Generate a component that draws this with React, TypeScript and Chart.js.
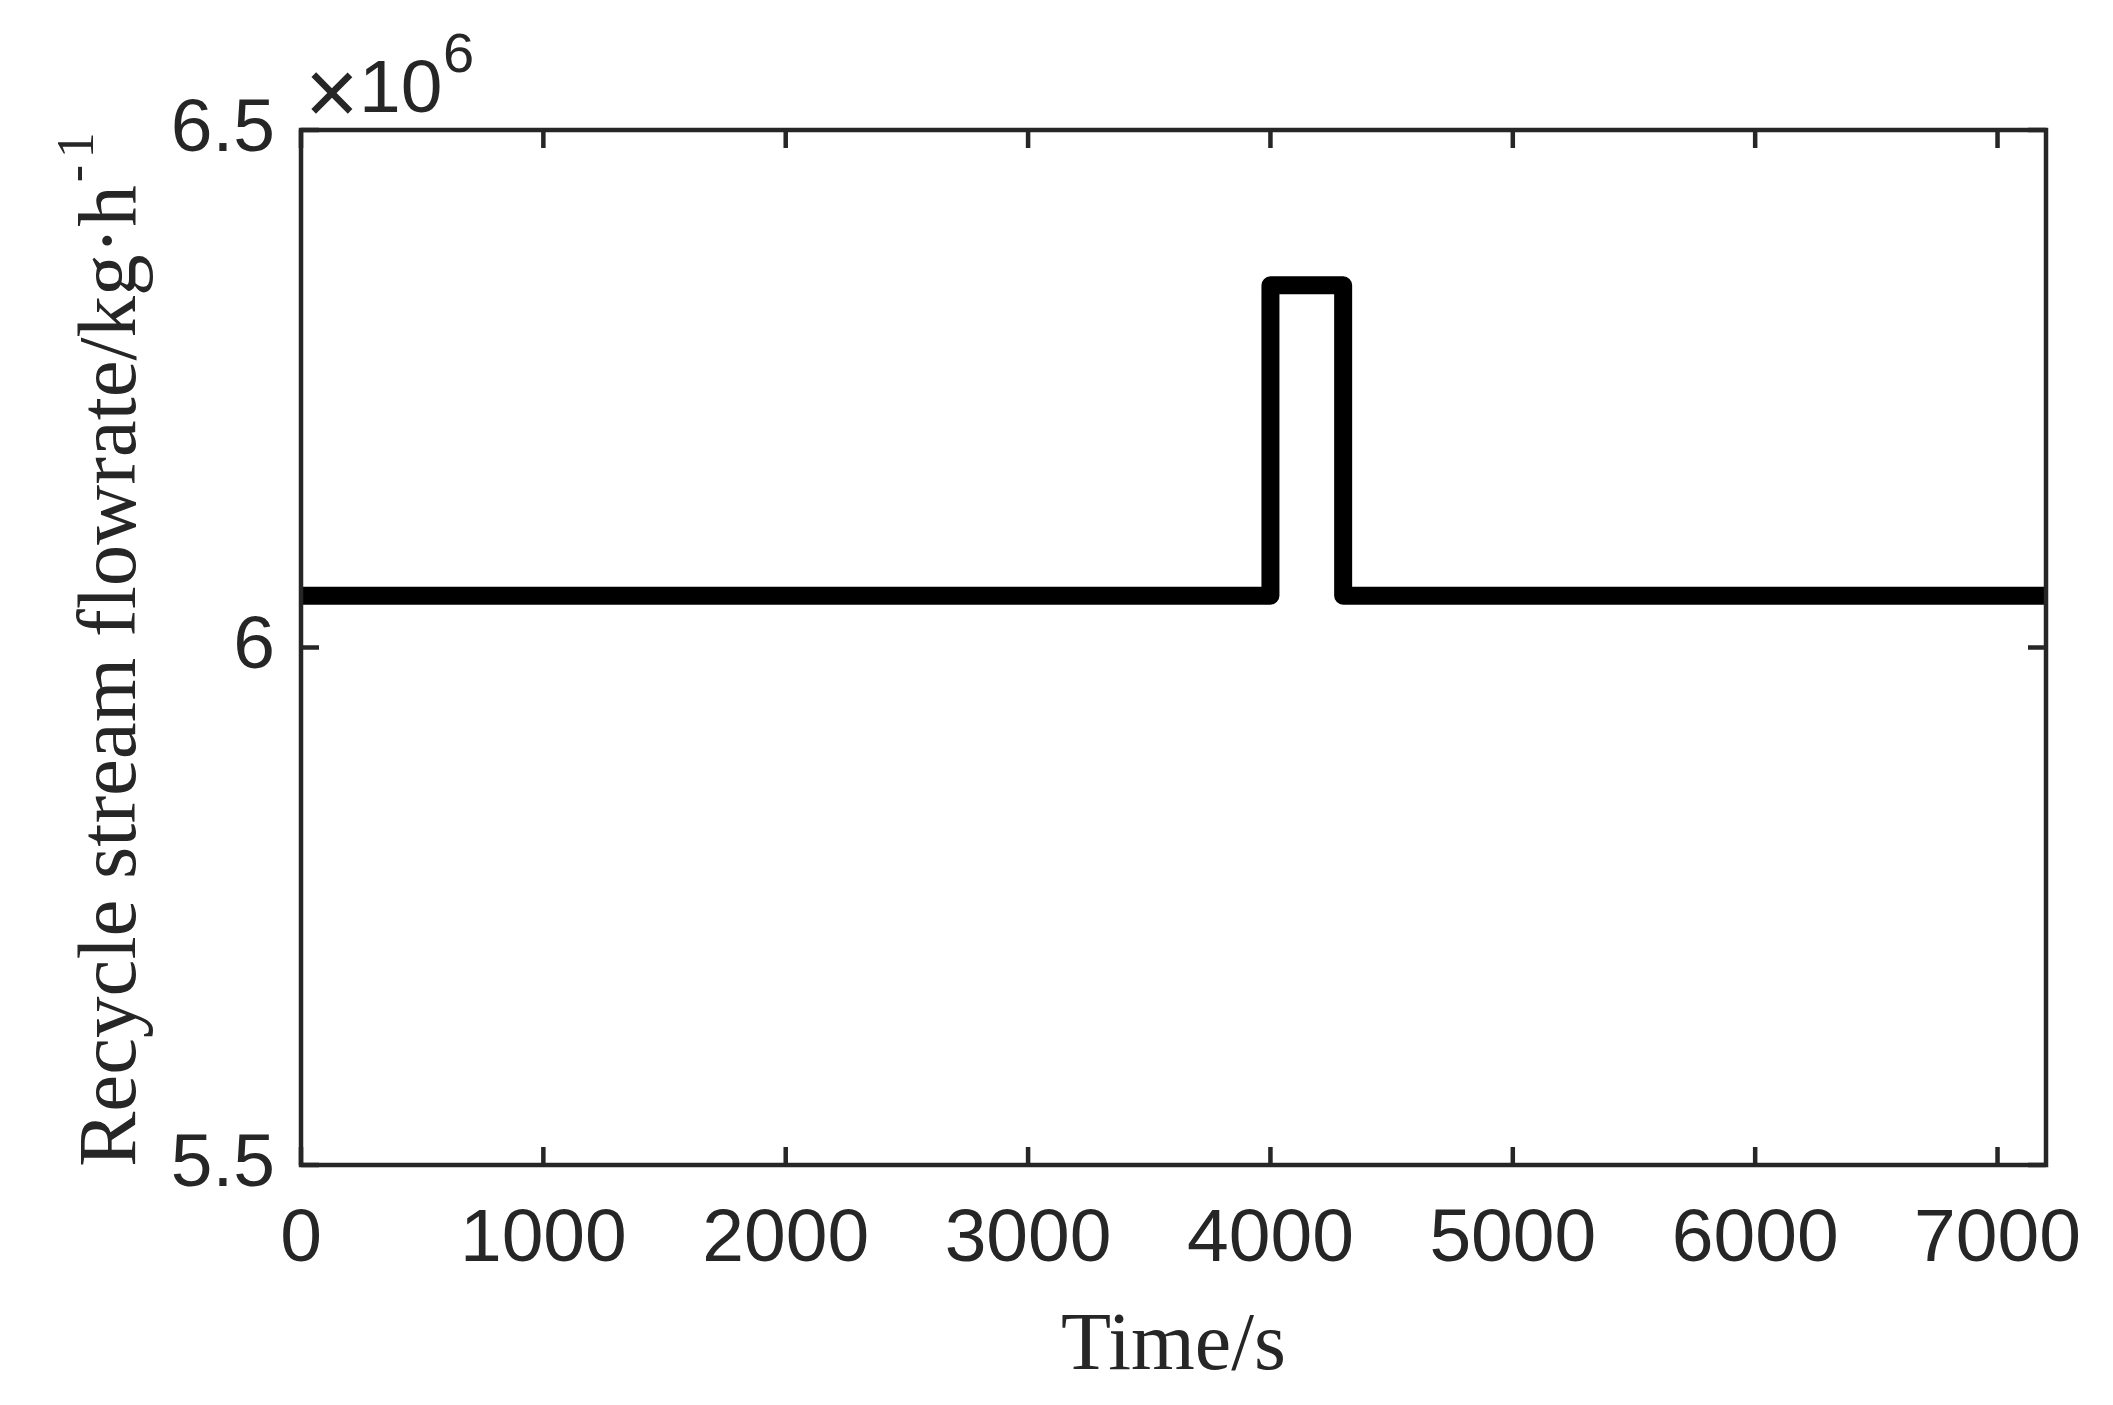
import React, { useEffect, useRef } from "react";
import { Chart, registerables } from "chart.js";

Chart.register(...registerables);

// ---- Data ----
const times: number[] = [0, 4000, 4000, 4300, 4300, 7200];
const flowrates: number[] = [6.05e6, 6.05e6, 6.35e6, 6.35e6, 6.05e6, 6.05e6];
const xTickValues: number[] = [0, 1000, 2000, 3000, 4000, 5000, 6000, 7000];
const yTickValues: number[] = [5.5e6, 6.0e6, 6.5e6];
const xMin = 0;
const xMax = 7200;
const yMin = 5.5e6;
const yMax = 6.5e6;
const yScaleFactor = 1e6;
const exponentBase = "10";
const exponentPower = "6";
const xTitle = "Time/s";
const yTitle = "Recycle stream flowrate/kg·h";
const yTitleSupMinus = "-";
const yTitleSupOne = "1";

const TEXT = "#262626";
const SANS = '"Liberation Sans", Arial, Helvetica, sans-serif';
const SERIF = '"Liberation Serif", "Times New Roman", serif';

const W = 2113;
const H = 1405;
const AREA = { left: 301, top: 130, right: 2046, bottom: 1165 };

const framePlugin = {
  id: "matlabFrame",
  afterDraw(chart: any) {
    const { ctx, chartArea, scales } = chart;
    const { left, top, right, bottom } = chartArea;
    ctx.save();
    ctx.strokeStyle = TEXT;
    ctx.lineWidth = 4.5;
    ctx.lineCap = "butt";
    ctx.strokeRect(left, top, right - left, bottom - top);
    const tl = 18;
    ctx.beginPath();
    for (const v of xTickValues) {
      const px = scales.x.getPixelForValue(v);
      ctx.moveTo(px, bottom);
      ctx.lineTo(px, bottom - tl);
      ctx.moveTo(px, top);
      ctx.lineTo(px, top + tl);
    }
    for (const v of yTickValues) {
      const py = scales.y.getPixelForValue(v);
      ctx.moveTo(left, py);
      ctx.lineTo(left + tl, py);
      ctx.moveTo(right, py);
      ctx.lineTo(right - tl, py);
    }
    ctx.stroke();

    ctx.fillStyle = TEXT;
    // x axis title
    ctx.font = `82px ${SERIF}`;
    ctx.textAlign = "center";
    ctx.textBaseline = "alphabetic";
    ctx.fillText(xTitle, (left + right) / 2, 1369);

    // y axis title with superscript
    ctx.save();
    ctx.translate(135, 1167);
    ctx.rotate(-Math.PI / 2);
    ctx.textAlign = "left";
    ctx.font = `83px ${SERIF}`;
    ctx.fillText(yTitle, 0, 0);
    const w = ctx.measureText(yTitle).width;
    ctx.font = `52px ${SERIF}`;
    ctx.fillText(yTitleSupMinus, w + 3, -42);
    ctx.fillText(yTitleSupOne, w + 27, -42);
    ctx.restore();

    // exponent label
    ctx.textAlign = "left";
    ctx.font = `92px ${SANS}`;
    ctx.fillText("×", 305, 124);
    ctx.font = `75px ${SANS}`;
    ctx.fillText(exponentBase, 359, 112);
    ctx.font = `56px ${SANS}`;
    ctx.fillText(exponentPower, 443, 72);
    ctx.restore();
  },
};

export default function App() {
  const canvasRef = useRef<HTMLCanvasElement | null>(null);

  useEffect(() => {
    const canvas = canvasRef.current;
    if (!canvas) return;
    const points = times.map((t, i) => ({ x: t, y: flowrates[i] }));
    const chart = new Chart(canvas, {
      type: "line",
      data: {
        datasets: [
          {
            data: points,
            borderColor: "#000000",
            borderWidth: 18,
            borderJoinStyle: "round",
            pointRadius: 0,
            fill: false,
            tension: 0,
            clip: 0,
          } as any,
        ],
      },
      plugins: [framePlugin],
      options: {
        animation: false,
        responsive: false,
        devicePixelRatio: 1,
        layout: {
          padding: { left: 0, top: AREA.top, right: W - AREA.right, bottom: 0 },
        },
        plugins: {
          legend: { display: false },
          tooltip: { enabled: false },
          title: { display: false },
        },
        scales: {
          x: {
            type: "linear",
            min: xMin,
            max: xMax,
            grid: { display: false, drawTicks: false },
            border: { display: false },
            afterFit: (scale: any) => {
              scale.height = H - AREA.bottom;
            },
            afterBuildTicks: (scale: any) => {
              scale.ticks = xTickValues.map((v) => ({ value: v }));
            },
            ticks: {
              padding: 30,
              maxRotation: 0,
              autoSkip: false,
              color: TEXT,
              font: { family: SANS, size: 75 },
              callback: (v: any) => String(v),
            },
          },
          y: {
            type: "linear",
            min: yMin,
            max: yMax,
            grid: { display: false, drawTicks: false },
            border: { display: false },
            afterFit: (scale: any) => {
              scale.width = AREA.left;
            },
            afterBuildTicks: (scale: any) => {
              scale.ticks = yTickValues.map((v) => ({ value: v }));
            },
            ticks: {
              padding: 26,
              autoSkip: false,
              color: TEXT,
              font: { family: SANS, size: 75 },
              callback: (v: any) => String(Number(v) / yScaleFactor),
            },
          },
        },
      },
    });
    return () => chart.destroy();
  }, []);

  return (
    <div style={{ position: "absolute", left: 0, top: 0, width: W, height: H, background: "#ffffff" }}>
      <canvas ref={canvasRef} width={W} height={H} style={{ display: "block" }} />
    </div>
  );
}
